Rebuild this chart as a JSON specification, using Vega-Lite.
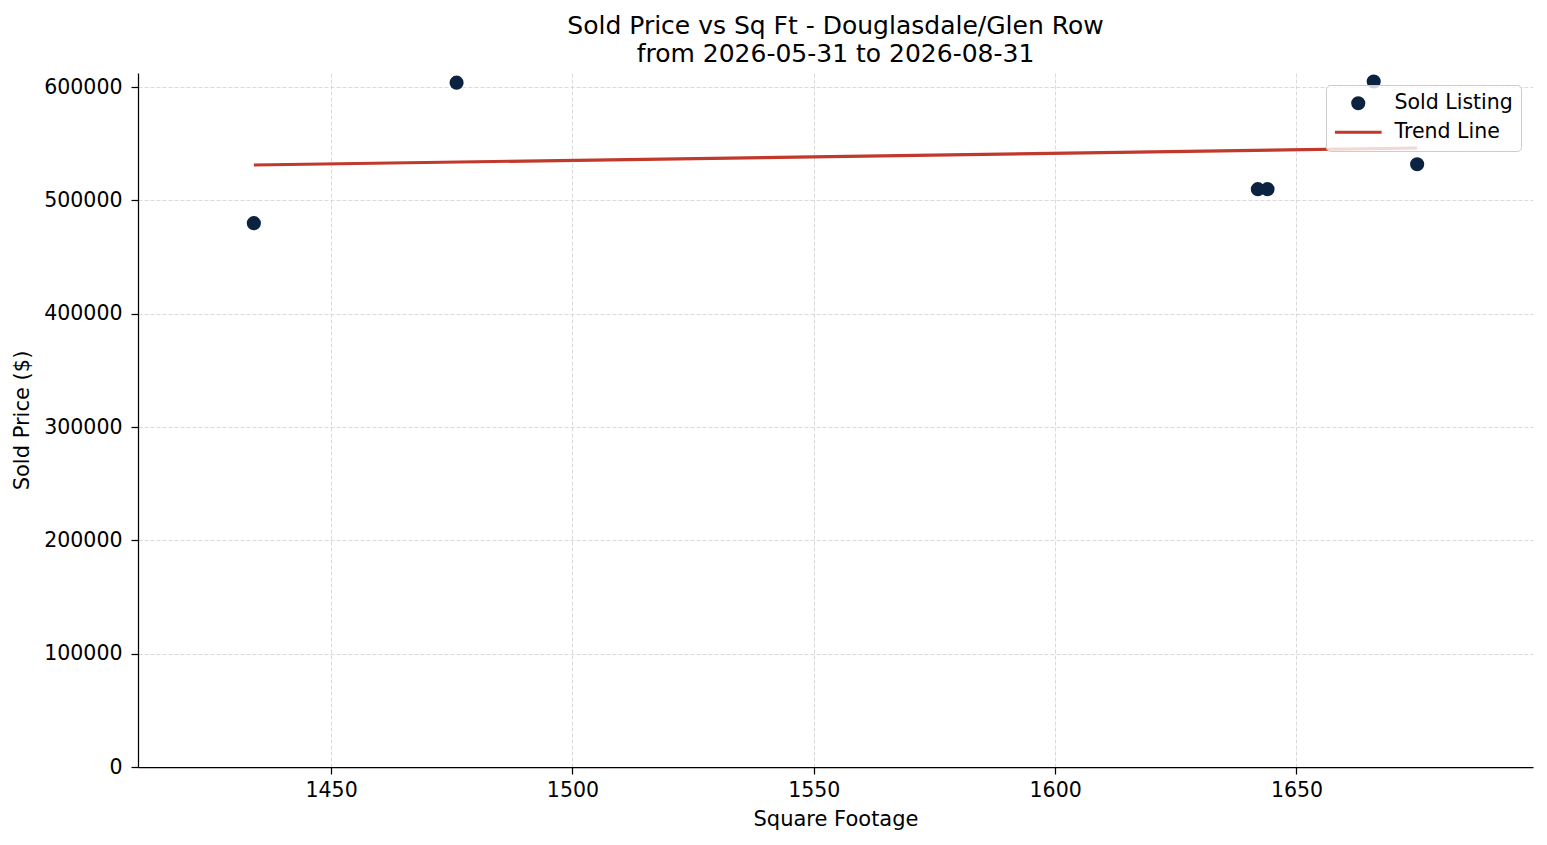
{
  "$schema": "https://vega.github.io/schema/vega-lite/v6.json",
  "width": 1395,
  "height": 694,
  "autosize": {"type": "none"},
  "padding": {"left": 138, "top": 73, "right": 14, "bottom": 78},
  "background": "white",
  "title": {
    "text": ["Sold Price vs Sq Ft - Douglasdale/Glen Row", "from 2026-05-31 to 2026-08-31"],
    "anchor": "middle",
    "frame": "group",
    "font": "DejaVu Sans",
    "fontSize": 25,
    "fontWeight": "normal",
    "color": "black",
    "lineHeight": 28,
    "offset": 6
  },
  "config": {
    "view": {"stroke": null},
    "font": "DejaVu Sans",
    "axis": {
      "domainColor": "black",
      "domainWidth": 1.25,
      "tickColor": "black",
      "tickWidth": 1.25,
      "tickSize": 7,
      "labelFont": "DejaVu Sans",
      "labelFontSize": 20.5,
      "labelColor": "black",
      "titleFont": "DejaVu Sans",
      "titleFontSize": 21,
      "titleFontWeight": "normal",
      "titleColor": "black",
      "gridColor": "#d0d0d0",
      "gridDash": [4, 2],
      "gridWidth": 0.8
    },
    "legend": {
      "labelFont": "DejaVu Sans",
      "labelFontSize": 20.5,
      "labelColor": "black"
    }
  },
  "data": {
    "values": [
      {"sqft": 1434, "price": 480000, "series": "Sold Listing"},
      {"sqft": 1476, "price": 604000, "series": "Sold Listing"},
      {"sqft": 1642, "price": 510000, "series": "Sold Listing"},
      {"sqft": 1644, "price": 510000, "series": "Sold Listing"},
      {"sqft": 1666, "price": 605000, "series": "Sold Listing"},
      {"sqft": 1675, "price": 532000, "series": "Sold Listing"},
      {"sqft": 1434, "price": 531300, "series": "Trend Line"},
      {"sqft": 1675, "price": 546300, "series": "Trend Line"}
    ]
  },
  "encoding": {
    "x": {
      "field": "sqft",
      "type": "quantitative",
      "title": "Square Footage",
      "scale": {"domain": [1410, 1699], "nice": false, "zero": false},
      "axis": {"values": [1450, 1500, 1550, 1600, 1650], "format": "d", "labelPadding": 6, "titlePadding": 8}
    },
    "y": {
      "field": "price",
      "type": "quantitative",
      "title": "Sold Price ($)",
      "scale": {"domain": [0, 612500], "nice": false},
      "axis": {"values": [0, 100000, 200000, 300000, 400000, 500000, 600000], "format": "d", "labelPadding": 9, "titlePadding": 11}
    }
  },
  "layer": [
    {
      "transform": [{"filter": "datum.series === 'Sold Listing'"}],
      "mark": {"type": "point", "filled": true, "opacity": 1, "size": 200, "strokeWidth": 0},
      "encoding": {
        "color": {
          "field": "series",
          "type": "nominal",
          "scale": {"domain": ["Sold Listing", "Trend Line"], "range": ["#0b2341", "#c0392b"]},
          "legend": {
            "title": null,
            "orient": "top-right",
            "offset": 12,
            "fillColor": "rgba(255,255,255,0.8)",
            "strokeColor": "#cccccc",
            "cornerRadius": 4,
            "padding": 8,
            "symbolSize": 200,
            "symbolStrokeWidth": 0,
            "symbolOffset": 14,
            "labelOffset": 26,
            "rowPadding": 8
          }
        },
        "shape": {
          "field": "series",
          "type": "nominal",
          "scale": {"domain": ["Sold Listing", "Trend Line"], "range": ["circle", "M-3.3,-0.21H3.3V0.21H-3.3Z"]},
          "legend": {
            "title": null,
            "orient": "top-right",
            "offset": 12,
            "fillColor": "rgba(255,255,255,0.8)",
            "strokeColor": "#cccccc",
            "cornerRadius": 4,
            "padding": 8,
            "symbolSize": 200,
            "symbolStrokeWidth": 0,
            "symbolOffset": 14,
            "labelOffset": 26,
            "rowPadding": 8
          }
        }
      }
    },
    {
      "transform": [{"filter": "datum.series === 'Trend Line'"}],
      "mark": {"type": "line", "strokeWidth": 3.2},
      "encoding": {
        "color": {"field": "series", "type": "nominal"}
      }
    }
  ]
}
